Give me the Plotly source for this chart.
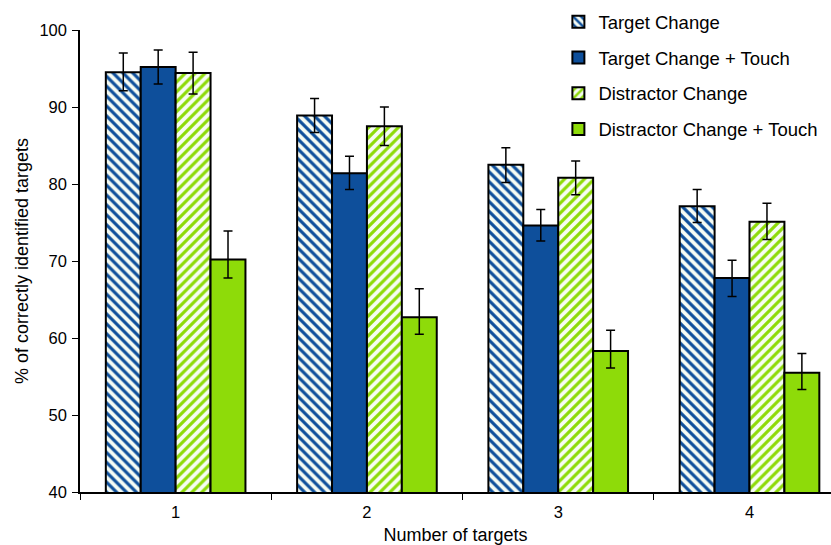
import plotly.graph_objects as go

# Number of targets on the x axis
categories = ["1", "2", "3", "4"]

series_names = [
    "Target Change",
    "Target Change + Touch",
    "Distractor Change",
    "Distractor Change + Touch",
]

# Mean percentage of correctly identified targets
target_change = [94.5, 88.9, 82.5, 77.1]
target_change_touch = [95.2, 81.4, 74.6, 67.8]
distractor_change = [94.4, 87.5, 80.8, 75.1]
distractor_change_touch = [70.2, 62.7, 58.3, 55.5]

# Error bar extents (upper / lower)
tc_err_up = [2.5, 2.2, 2.2, 2.2]
tc_err_down = [2.4, 2.2, 2.3, 2.1]
tct_err_up = [2.2, 2.2, 2.1, 2.3]
tct_err_down = [2.2, 2.1, 2.0, 2.4]
dc_err_up = [2.7, 2.5, 2.2, 2.4]
dc_err_down = [2.7, 2.5, 2.2, 2.3]
dct_err_up = [3.7, 3.7, 2.7, 2.5]
dct_err_down = [2.4, 2.2, 2.2, 2.2]

values = [target_change, target_change_touch, distractor_change, distractor_change_touch]
err_up = [tc_err_up, tct_err_up, dc_err_up, dct_err_up]
err_down = [tc_err_down, tct_err_down, dc_err_down, dct_err_down]

BLUE = "#0e4f9b"
GREEN = "#8edb09"
HATCH_BG = "#f6fcf4"

styles = [
    dict(color=HATCH_BG, pattern=dict(shape="\\", fgcolor=BLUE, bgcolor=HATCH_BG,
                                      size=7, solidity=0.45, fillmode="replace")),
    dict(color=BLUE),
    dict(color=HATCH_BG, pattern=dict(shape="/", fgcolor=GREEN, bgcolor=HATCH_BG,
                                      size=7, solidity=0.45, fillmode="replace")),
    dict(color=GREEN),
]

fig = go.Figure()
for i, name in enumerate(series_names):
    marker = dict(styles[i])
    marker["line"] = dict(color="black", width=2)
    fig.add_trace(go.Bar(
        name=name,
        x=categories,
        y=values[i],
        marker=marker,
        legendgroup=name,
        error_y=dict(type="data", symmetric=False, array=err_up[i],
                     arrayminus=err_down[i], color="black", thickness=1.5, width=4.5),
    ))

fig.update_layout(
    width=831,
    height=545,
    margin=dict(l=80, r=0, t=30, b=53),
    paper_bgcolor="white",
    plot_bgcolor="white",
    barmode="group",
    bargap=0.27,
    bargroupgap=0,
    font=dict(family="Liberation Sans, Arial, sans-serif", color="black", size=16),
    showlegend=True,
    legend=dict(
        x=0.637, y=1.058, xanchor="left", yanchor="top",
        bgcolor="rgba(255,255,255,0)",
        font=dict(size=18.5),
        tracegroupgap=8.7,
        itemsizing="constant",
    ),
)

fig.update_xaxes(
    type="category",
    range=[-0.5, 3.426],
    showline=True, linecolor="black", linewidth=1.5,
    ticks="outside", tickson="boundaries", ticklen=6, tickcolor="black",
    tickfont=dict(size=16.5), ticklabelstandoff=4,
    title=dict(text="Number of targets", font=dict(size=18), standoff=12),
    showgrid=False, zeroline=False,
)
fig.update_yaxes(
    range=[40, 100],
    dtick=10,
    showline=True, linecolor="black", linewidth=1.5,
    ticks="outside", ticklen=6, tickcolor="black",
    tickfont=dict(size=16.5), ticklabelstandoff=2,
    title=dict(text="% of correctly identified targets", font=dict(size=18), standoff=6),
    showgrid=False, zeroline=False,
)

fig.write_html("out.html")
